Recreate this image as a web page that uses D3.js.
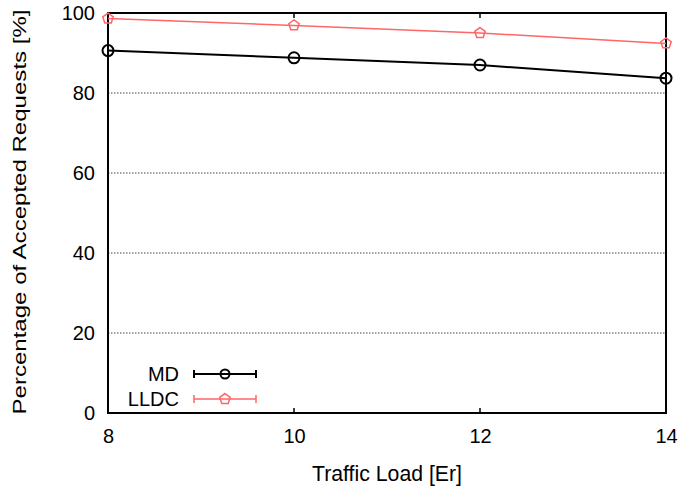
<!DOCTYPE html>
<html><head><meta charset="utf-8">
<script src="https://cdn.jsdelivr.net/npm/d3@7"></script>
<style>body{margin:0;background:#fff}text{font-family:"Liberation Sans",Arial,sans-serif}</style>
</head><body><svg id="c" width="685" height="488"></svg>
<script>
const loads = [8, 10, 12, 14];
const mdValues = [90.6, 88.8, 87.0, 83.7];
const lldcValues = [98.6, 96.9, 95.0, 92.4];
const yTicks = [0, 20, 40, 60, 80, 100];
const xTicks = [8, 10, 12, 14];
const seriesNames = ["MD", "LLDC"];
const seriesColors = ["#000000", "#ff6666"];

const svg = d3.select("#c");
const L = 108, R = 666, T = 13, B = 413;
const x = d3.scaleLinear().domain([8, 14]).range([L, R]);
const y = d3.scaleLinear().domain([0, 100]).range([B, T]);
const FF = "'Liberation Sans',Arial,sans-serif";

// gridlines
svg.append("g").selectAll("line").data(yTicks.filter(v => v > 0 && v < 100)).join("line")
  .attr("x1", L).attr("x2", R).attr("y1", d => y(d)).attr("y2", d => y(d))
  .attr("stroke", "#444").attr("stroke-width", 1).attr("stroke-dasharray", "1.5,1.5");

// axes
const ya = svg.append("g").attr("transform", `translate(${L},0)`)
  .call(d3.axisLeft(y).tickValues(yTicks).tickFormat(d3.format("d")).tickSize(0).tickPadding(13));
ya.attr("font-size", null).attr("font-family", null);
ya.select(".domain").remove();
ya.selectAll("text").style("font-size", "20px").attr("fill", "#000").style("font-family", FF);

const xa = svg.append("g").attr("transform", `translate(0,${B})`)
  .call(d3.axisBottom(x).tickValues(xTicks).tickFormat(d3.format("d")).tickSize(0).tickPadding(16));
xa.attr("font-size", null).attr("font-family", null);
xa.select(".domain").remove();
xa.selectAll("text").style("font-size", "20px").attr("fill", "#000").style("font-family", FF);

// inner ticks top and bottom
svg.append("g").selectAll("line").data(xTicks.slice(1, -1)).join("line")
  .attr("x1", d => x(d)).attr("x2", d => x(d)).attr("y1", B).attr("y2", B - 5)
  .attr("stroke", "#000").attr("stroke-width", 1.5);
svg.append("g").selectAll("line").data(xTicks.slice(1, -1)).join("line")
  .attr("x1", d => x(d)).attr("x2", d => x(d)).attr("y1", T).attr("y2", T + 5)
  .attr("stroke", "#000").attr("stroke-width", 1.5);

// frame
svg.append("rect").attr("x", L).attr("y", T).attr("width", R - L).attr("height", B - T)
  .attr("fill", "none").attr("stroke", "#000").attr("stroke-width", 2);

// titles
svg.append("text").attr("x", (L + R) / 2).attr("y", 481).attr("text-anchor", "middle")
  .style("font-size", "22px").attr("textLength", 150).attr("lengthAdjust", "spacingAndGlyphs")
  .text("Traffic Load [Er]");
svg.append("text").attr("transform", `translate(26,212) rotate(-90)`)
  .attr("text-anchor", "middle").style("font-size", "19px")
  .attr("textLength", 405).attr("lengthAdjust", "spacingAndGlyphs")
  .text("Percentage of Accepted Requests [%]");

const pent = d3.symbol().type({
  draw(ctx, size) {
    const r = Math.sqrt(size);
    for (let i = 0; i < 5; i++) {
      const a = -Math.PI / 2 + i * 2 * Math.PI / 5;
      const px = r * Math.cos(a), py = r * Math.sin(a);
      if (i === 0) ctx.moveTo(px, py); else ctx.lineTo(px, py);
    }
    ctx.closePath();
  }
}).size(30);

const line = d3.line().x((d, i) => x(loads[i])).y(d => y(d));

// LLDC
svg.append("path").datum(lldcValues).attr("d", line).attr("fill", "none")
  .attr("stroke", seriesColors[1]).attr("stroke-width", 1.5);
svg.append("g").selectAll("path").data(lldcValues).join("path")
  .attr("d", pent).attr("transform", (d, i) => `translate(${x(loads[i])},${y(d)})`)
  .attr("fill", "none").attr("stroke", seriesColors[1]).attr("stroke-width", 1.5);

// MD
svg.append("path").datum(mdValues).attr("d", line).attr("fill", "none")
  .attr("stroke", seriesColors[0]).attr("stroke-width", 2);
svg.append("g").selectAll("circle").data(mdValues).join("circle")
  .attr("cx", (d, i) => x(loads[i])).attr("cy", d => y(d)).attr("r", 5.5)
  .attr("fill", "none").attr("stroke", seriesColors[0]).attr("stroke-width", 2);

// legend
const legY = [374, 399];
seriesNames.forEach((name, i) => {
  const g = svg.append("g");
  const c = seriesColors[i];
  const sw = i === 0 ? 2 : 1.5;
  g.append("text").attr("x", 179).attr("y", legY[i] + 7).attr("text-anchor", "end")
    .style("font-size", "20px").text(name);
  g.append("line").attr("x1", 194).attr("x2", 256).attr("y1", legY[i]).attr("y2", legY[i])
    .attr("stroke", c).attr("stroke-width", sw);
  [194, 256].forEach(xx => g.append("line").attr("x1", xx).attr("x2", xx)
    .attr("y1", legY[i] - 4).attr("y2", legY[i] + 4).attr("stroke", c).attr("stroke-width", sw));
  if (i === 0) {
    g.append("circle").attr("cx", 225).attr("cy", legY[i]).attr("r", 4.5)
      .attr("fill", "none").attr("stroke", c).attr("stroke-width", 2);
  } else {
    g.append("path").attr("d", pent).attr("transform", `translate(225,${legY[i]})`)
      .attr("fill", "none").attr("stroke", c).attr("stroke-width", 1.5);
  }
});
</script></body></html>
